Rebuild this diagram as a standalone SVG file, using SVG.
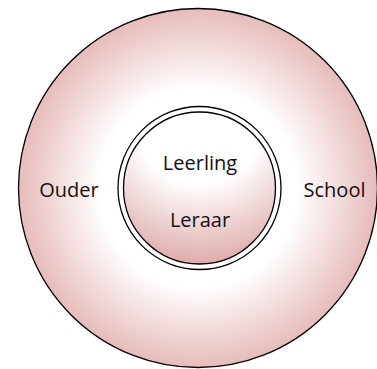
<svg xmlns="http://www.w3.org/2000/svg" width="377" height="369" viewBox="0 0 377 369">
<style>
text{font-family:"Open Sans","Liberation Sans",sans-serif;font-size:20px;fill:#111;text-anchor:middle}
.ring{fill:#fff;stroke:#000;stroke-width:1.3}
</style>
<defs>
<radialGradient id="gOuter" cx="0.5" cy="0.5" r="0.5">
<stop offset="0.55" stop-color="#ffffff"/>
<stop offset="1" stop-color="#e7bbbb"/>
</radialGradient>
<radialGradient id="gInner" cx="0.5" cy="0.05" fx="0.5" fy="0.05" r="1">
<stop offset="0.42" stop-color="#ffffff"/>
<stop offset="0.97" stop-color="#dea8a8"/>
</radialGradient>
</defs>
<g id="outer">
<circle cx="198" cy="188" r="179.5" fill="url(#gOuter)" stroke="#000" stroke-width="1.3"/>
<text x="69" y="197">Ouder</text>
<text x="334.5" y="197">School</text>
</g>
<g id="inner">
<circle cx="199.5" cy="188" r="81.5" class="ring"/>
<circle cx="199.5" cy="188" r="76" fill="url(#gInner)" stroke="#000" stroke-width="1.3"/>
<text x="200" y="169.5">Leerling</text>
<text x="200" y="227">Leraar</text>
</g>
<g id="connectors"/>
</svg>
